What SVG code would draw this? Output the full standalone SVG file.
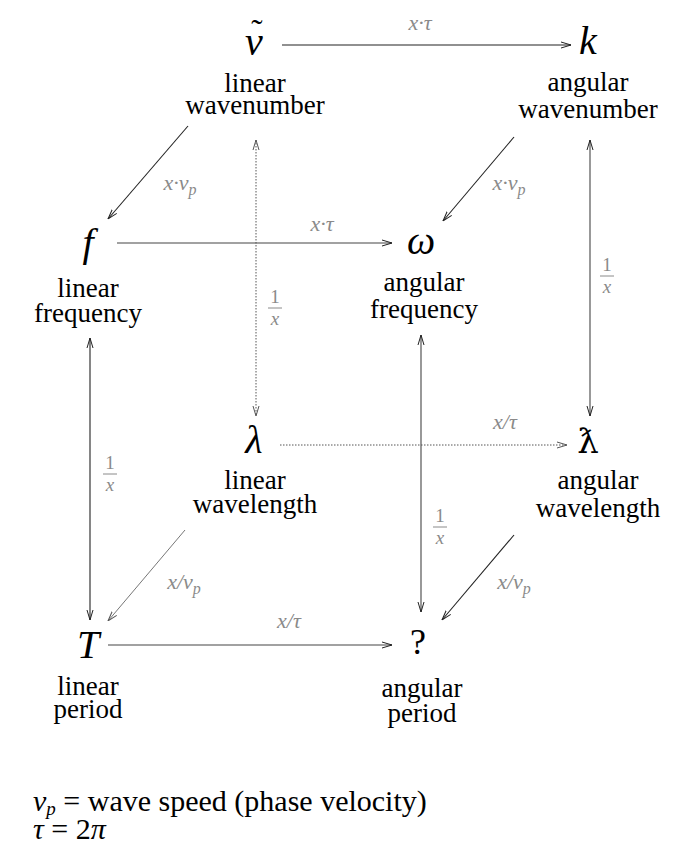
<svg xmlns="http://www.w3.org/2000/svg" width="689" height="864" viewBox="0 0 689 864" font-family="Liberation Serif">
<defs>
<marker id="a" viewBox="0 0 10 8" refX="10" refY="4" markerWidth="10" markerHeight="8" markerUnits="userSpaceOnUse" orient="auto-start-reverse">
<path d="M0,1 L10,4 L0,7" fill="none" stroke="#222" stroke-width="1"/>
</marker>
<marker id="ag" viewBox="0 0 10 8" refX="10" refY="4" markerWidth="10" markerHeight="8" markerUnits="userSpaceOnUse" orient="auto-start-reverse">
<path d="M0,1 L10,4 L0,7" fill="none" stroke="#555" stroke-width="1"/>
</marker>
</defs>
<rect width="689" height="864" fill="#fff"/>

<g id="connectors" fill="none" stroke-width="1.1">
<g stroke="#222" marker-end="url(#a)">
<line x1="282" y1="45" x2="571" y2="45"/>
<line x1="188" y1="126" x2="108" y2="219"/>
<line x1="514" y1="137" x2="443" y2="221"/>
<line x1="514" y1="535" x2="442" y2="620"/>
</g>
<g stroke="#444" marker-end="url(#a)">
<line x1="117" y1="243" x2="392" y2="243"/>
<line x1="108" y1="645" x2="392" y2="645"/>
<line x1="590" y1="140" x2="590" y2="416" marker-start="url(#a)"/>
<line x1="421" y1="335" x2="421" y2="612" marker-start="url(#a)"/>
<line x1="90" y1="338" x2="90" y2="620" marker-start="url(#a)" stroke="#222"/>
</g>
<g stroke="#555" stroke-width="1" marker-end="url(#ag)">
<line x1="256" y1="140" x2="256" y2="416" marker-start="url(#ag)" stroke-dasharray="1.5 1.5"/>
<line x1="280" y1="445" x2="567" y2="445" stroke-dasharray="1.5 1.5"/>
<line x1="185" y1="530" x2="108" y2="621" stroke="#777"/>
</g>
</g>

<g id="edge-labels" font-family="Liberation Serif" fill="#8a8a8a" text-anchor="middle" font-style="italic" font-size="22">
<text x="420" y="30">x·τ</text>
<text x="322" y="231">x·τ</text>
<text x="180" y="190">x·v<tspan font-size="16" dy="5">p</tspan></text>
<text x="509" y="190">x·v<tspan font-size="16" dy="5">p</tspan></text>
<text x="505" y="429">x/τ</text>
<text x="289" y="628">x/τ</text>
<text x="184" y="589">x/v<tspan font-size="16" dy="5">p</tspan></text>
<text x="514" y="589">x/v<tspan font-size="16" dy="5">p</tspan></text>
<g font-size="19" stroke-width="1">
<text x="275" y="303" font-style="normal">1</text>
<line x1="268" y1="308" x2="282" y2="308" stroke="#8a8a8a"/>
<text x="275" y="325">x</text>
<text x="607" y="271" font-style="normal">1</text>
<line x1="600" y1="276" x2="614" y2="276" stroke="#8a8a8a"/>
<text x="607" y="293">x</text>
<text x="110" y="469" font-style="normal">1</text>
<line x1="103" y1="474" x2="117" y2="474" stroke="#8a8a8a"/>
<text x="110" y="491">x</text>
<text x="440" y="522" font-style="normal">1</text>
<line x1="433" y1="527" x2="447" y2="527" stroke="#8a8a8a"/>
<text x="440" y="544">x</text>
</g>
</g>

<g id="nodes" font-family="Liberation Serif" text-anchor="middle" fill="#000" font-size="27">
<g id="node-nu">
<text x="254" y="55" font-style="italic" font-size="40">ν</text>
<text x="257" y="43" font-size="34">˜</text>
<text x="255" y="92">linear</text>
<text x="255" y="114">wavenumber</text>
</g>
<g id="node-k">
<text x="588" y="54" font-style="italic" font-size="40">k</text>
<text x="588" y="91">angular</text>
<text x="588" y="118">wavenumber</text>
</g>
<g id="node-f">
<text x="88" y="256" font-style="italic" font-size="40">f</text>
<text x="88" y="297">linear</text>
<text x="88" y="322">frequency</text>
</g>
<g id="node-omega">
<text x="421" y="254" font-style="italic" font-size="40">ω</text>
<text x="424" y="291">angular</text>
<text x="424" y="318">frequency</text>
</g>
<g id="node-lambda">
<text x="254" y="453" font-style="italic" font-size="40">λ</text>
<text x="255" y="489">linear</text>
<text x="255" y="513">wavelength</text>
</g>
<g id="node-lambdabar">
<text x="588" y="453" font-family="DejaVu Serif" font-size="34">ƛ</text>
<text x="598" y="489">angular</text>
<text x="598" y="517">wavelength</text>
</g>
<g id="node-T">
<text x="88" y="658" font-style="italic" font-size="40">T</text>
<text x="88" y="695">linear</text>
<text x="88" y="718">period</text>
</g>
<g id="node-q">
<text x="418" y="654" font-size="36">?</text>
<text x="422" y="697">angular</text>
<text x="422" y="722">period</text>
</g>
</g>

<g id="legend" font-family="Liberation Serif" font-size="30" fill="#000">
<text x="33" y="811"><tspan font-style="italic">v</tspan><tspan font-style="italic" font-size="19" dy="4">p</tspan><tspan dy="-4"> = wave speed (phase velocity)</tspan></text>
<text x="33" y="839"><tspan font-style="italic">τ</tspan> = 2<tspan font-style="italic">π</tspan></text>
</g>
</svg>
